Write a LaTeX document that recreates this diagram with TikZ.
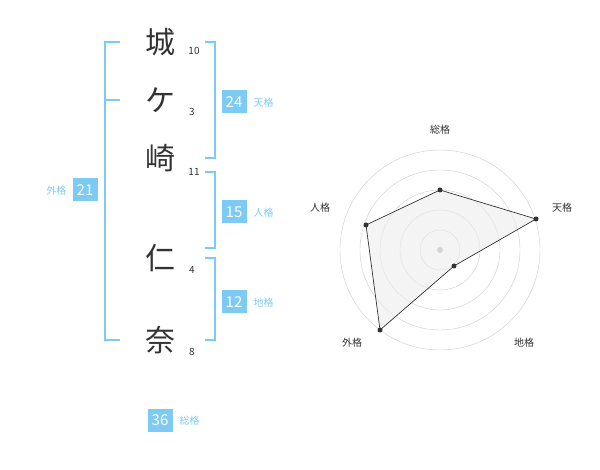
\documentclass[tikz,border=0pt]{standalone}
\usepackage{fontspec}
\setmainfont{Noto Sans CJK JP}
\begin{document}
\begin{tikzpicture}[x=1pt,y=-1pt]
\definecolor{bl}{HTML}{7DCBF5}
\definecolor{tx}{HTML}{333333}
\tikzset{
 kanji/.style={font=\fontsize{30}{30}\selectfont,text=tx},
 num/.style={font=\fontsize{10}{10}\selectfont,text=tx},
 box/.style={fill=bl,text=white,font=\fontsize{15}{15}\selectfont,minimum width=25,minimum height=23,inner sep=0},
 lab/.style={text=bl,font=\fontsize{10}{10}\selectfont},
 br/.style={draw=bl,line width=1.3},
 rl/.style={font=\fontsize{10}{10}\selectfont,text=tx}
}
\path[use as bounding box] (0,0) rectangle (600,470);
\node[kanji] (k1) at (160,42) {城};
\node[kanji] (k2) at (160,100) {ケ};
\node[kanji] (k3) at (160,158) {崎};
\node[kanji] (k4) at (160,258) {仁};
\node[kanji] (k5) at (160,340) {奈};
\node[num] (n1) at (194,51) {10};
\node[num] (n2) at (192,112) {3};
\node[num] (n3) at (194,172) {11};
\node[num] (n4) at (192,270) {4};
\node[num] (n5) at (192,352) {8};
\draw[br] (120,42)--(105,42)--(105,340)--(120,340);
\draw[br] (105,100)--(120,100);
\draw[br] (205,42)--(215,42)--(215,158)--(205,158);
\draw[br] (205,172)--(215,172)--(215,248)--(205,248);
\draw[br] (205,258)--(215,258)--(215,340)--(205,340);
\node[box] (b24) at (234,102) {24}; \node[lab,anchor=west] (l24) at (250,103) {天格};
\node[box] (b15) at (234,212) {15}; \node[lab,anchor=west] (l15) at (250,213) {人格};
\node[box] (b12) at (234,302) {12}; \node[lab,anchor=west] (l12) at (250,303) {地格};
\node[box] (b21) at (85,190) {21}; \node[lab,anchor=east] (l21) at (70,191) {外格};
\node[box] (b36) at (160,420) {36}; \node[lab,anchor=west] (l36) at (176,421) {総格};
% radar
\foreach \r in {20,40,60,80,100} \draw[gray!40] (440,250) circle (\r);
\fill[gray!60] (440,250) circle (3);
\fill[gray!15,opacity=0.6,draw=tx,fill opacity=0.6,draw opacity=1,line width=0.7]
 (440,190)--(536,219)--(454,266)--(380,330)--(366,225)--cycle;
\foreach \p in {(440,190),(536,219),(454,266),(380,330),(366,225)} \fill[tx] \p circle (2.5);
\node[rl] (r1) at (440,130) {総格};
\node[rl] (r2) at (562,208) {天格};
\node[rl] (r3) at (524,343) {地格};
\node[rl] (r4) at (352,343) {外格};
\node[rl] (r5) at (320,208) {人格};
\end{tikzpicture}
\end{document}
